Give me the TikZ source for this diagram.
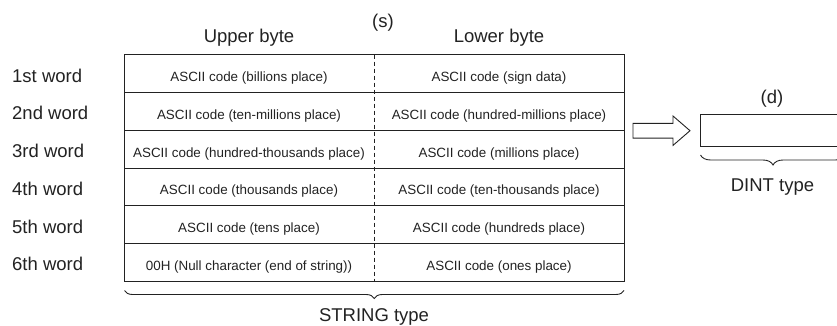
\documentclass[tikz,border=0pt]{standalone}
\usepackage{fontspec}
\setmainfont{Liberation Sans}
\usetikzlibrary{decorations.pathreplacing}
\definecolor{ink}{HTML}{222222}
\begin{document}
\begin{tikzpicture}[x=1pt,y=-1pt,
  lbl/.style={font=\fontsize{18.5}{22}\selectfont, text=ink, inner sep=0pt, anchor=base},
  wordlbl/.style={lbl, anchor=base west},
  cell/.style={font=\fontsize{13.4}{16}\selectfont, text=ink, inner sep=0pt, anchor=base},
  frame/.style={draw=ink, line width=0.9pt},
  divider/.style={draw=ink, line width=0.8pt, dash pattern=on 4pt off 3pt},
  bracestyle/.style={draw=ink, line width=0.9pt, decorate, decoration={brace, amplitude=#1, mirror}},
  blockarrow/.style={draw=ink, line width=0.9pt, fill=white, line join=miter}]
\clip (0,0) rectangle (837,326);

% table frame and rows
\coordinate (tl) at (124.5,54.7);
\coordinate (br) at (624,281.3);
\draw[frame] (tl) rectangle (br);
\foreach \yy in {92.47,130.24,168.01,205.78,243.55}
  \draw[frame] (124.5,\yy) -- (624,\yy);
\coordinate (dtop) at (374,54.7);
\coordinate (dbot) at (374,281.3);
\draw[divider] (dtop) -- (dbot);

% headers
\node[lbl] (s) at (383,28) {(s)};
\node[lbl] (upper) at (249,42.5) {Upper byte};
\node[lbl] (lower) at (499,42.5) {Lower byte};

% word labels
\node[wordlbl] (w1) at (12,82.1) {1st word};
\node[wordlbl] (w2) at (12,119.9) {2nd word};
\node[wordlbl] (w3) at (12,157.6) {3rd word};
\node[wordlbl] (w4) at (12,195.4) {4th word};
\node[wordlbl] (w5) at (12,233.2) {5th word};
\node[wordlbl] (w6) at (12,270.9) {6th word};

% cells
\node[cell] (u1) at (249,81.6) {ASCII code (billions place)};
\node[cell] (l1) at (499,81.6) {ASCII code (sign data)};
\node[cell] (u2) at (249,119.4) {ASCII code (ten-millions place)};
\node[cell] (l2) at (499,119.4) {ASCII code (hundred-millions place)};
\node[cell] (u3) at (249,157.1) {ASCII code (hundred-thousands place)};
\node[cell] (l3) at (499,157.1) {ASCII code (millions place)};
\node[cell] (u4) at (249,194.9) {ASCII code (thousands place)};
\node[cell] (l4) at (499,194.9) {ASCII code (ten-thousands place)};
\node[cell] (u5) at (249,232.7) {ASCII code (tens place)};
\node[cell] (l5) at (499,232.7) {ASCII code (hundreds place)};
\node[cell] (u6) at (249,270.4) {00H (Null character (end of string))};
\node[cell] (l6) at (499,270.4) {ASCII code (ones place)};

% STRING brace
\coordinate (sb1) at (124.5,290.5);
\coordinate (sb2) at (624,290.5);
\draw[bracestyle=8pt] (sb1) -- (sb2);
\node[lbl] (stype) at (374,321.5) {STRING type};

% block arrow
\draw[blockarrow] (633,123.3) -- (673,123.3) -- (673,116) -- (690,130.7) -- (673,145.4) -- (673,138.1) -- (633,138.1) -- cycle;

% DINT box
\node[lbl] (d) at (772,104) {(d)};
\coordinate (dbl) at (700.5,114.5);
\coordinate (dbr) at (850,146);
\draw[frame] (dbl) rectangle (dbr);
\coordinate (db1) at (700.5,155);
\coordinate (db2) at (845.5,155);
\draw[bracestyle=10pt] (db1) -- (db2);
\node[lbl] (dtype) at (772.5,191.5) {DINT type};
\end{tikzpicture}
\end{document}
